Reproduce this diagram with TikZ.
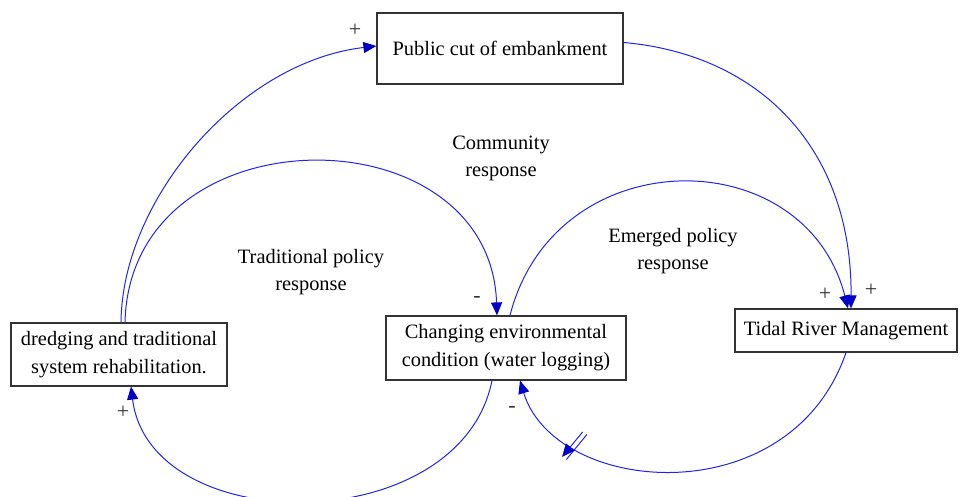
\documentclass[tikz,border=0pt]{standalone}
\usepackage{fontspec}
\setmainfont{Liberation Serif}
\usetikzlibrary{arrows.meta,decorations.markings}
\definecolor{linkblue}{RGB}{35,35,235}
\definecolor{tipblue}{RGB}{0,0,200}

\begin{document}
\begin{tikzpicture}[x=0.5pt,y=-0.5pt,
  box/.style={draw=black!80,line width=0.6pt,align=center,inner sep=0pt,font=\fontsize{10.2}{14}\selectfont},
  lbl/.style={align=center,font=\fontsize{10.2}{13.5}\selectfont},
  sign/.style={inner sep=0pt,text=black!80,font=\fontsize{11}{11}\selectfont},
  link/.style={draw=linkblue,line width=0.5pt,-{Triangle[length=6.5pt,width=5.5pt,color=tipblue]}},
  delay/.style={postaction={decorate},decoration={markings,mark=at position 0.79 with
    {\draw [linkblue,line width=0.5pt] (-2.5pt,-8pt) -- (0pt,8pt) (0pt,-8pt) -- (2.5pt,8pt);}}}]
\useasboundingbox (0,0) rectangle (960,497);

\node [box,minimum width=123pt,minimum height=35.5pt] (pc) at (500,48.5) {Public cut of embankment};
\node [box,minimum width=108pt,minimum height=31.5pt] (dr) at (119,354.5) {dredging and traditional\\system rehabilitation.};
\node [box,minimum width=120pt,minimum height=32pt] (ce) at (506,348) {Changing environmental\\condition (water logging)};
\node [box,minimum width=111pt,minimum height=21.5pt] (tr) at (846,330.5) {Tidal River Management};

\node [lbl] (cr) at (501,158) {Community\\response};
\node [lbl] (tp) at (311,272) {Traditional policy\\response};
\node [lbl] (ep) at (673,251) {Emerged policy\\response};

\node [sign] (s1) at (355,30) {+};
\node [sign] (s2) at (477,300) {-};
\node [sign] (s3) at (825,294) {+};
\node [sign] (s4) at (871,290) {+};
\node [sign] (s5) at (512,409) {-};
\node [sign] (s6) at (123,412) {+};

\draw [link] ([xshift=1pt]dr.north) .. controls +(1,-123) and +(-137,16) .. ([yshift=1.25pt]pc.west);
\draw [link] ([xshift=3pt]dr.north) .. controls +(5,-213) and +(-7,-206) .. ([xshift=-4.5pt]ce.north);
\draw [link] ([yshift=3pt]pc.east) .. controls +(137,12) and +(1,-159) .. ([xshift=2.5pt]tr.north);
\draw [link] ([xshift=2pt]ce.north) .. controls +(45,-176) and +(-43,-169) .. ([xshift=1pt]tr.north);
\draw [link,delay] (tr.south) .. controls +(-56,163) and +(35,115) .. ([xshift=7pt]ce.south);
\draw [link] ([xshift=-7pt]ce.south) .. controls +(-32,159) and +(19,153) .. ([xshift=6pt]dr.south);
\end{tikzpicture}
\end{document}
